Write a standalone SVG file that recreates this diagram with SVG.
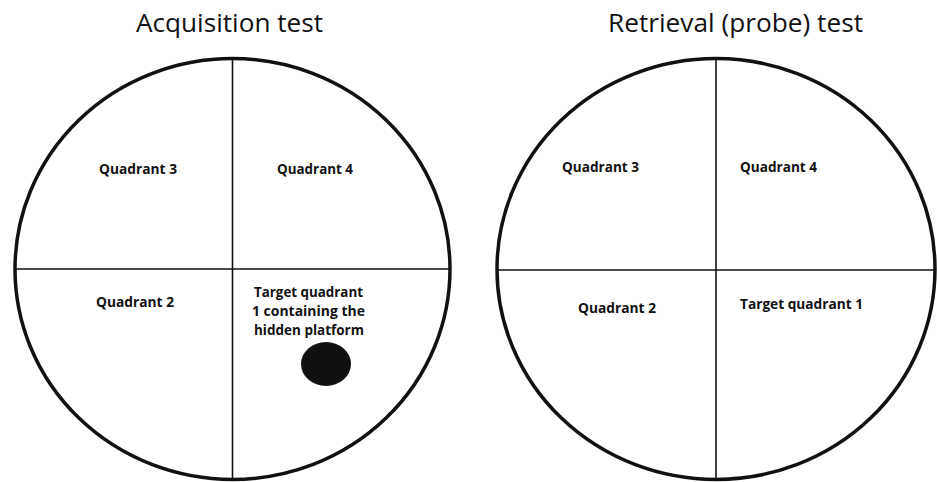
<svg xmlns="http://www.w3.org/2000/svg" width="937" height="482" viewBox="0 0 937 482">
  <style>
    .pool { fill: #ffffff; stroke: #111111; stroke-width: 3.5; }
    .divider { stroke: #111111; stroke-width: 1.6; fill: none; }
    .title { font-family: "Open Sans", "Liberation Sans", sans-serif; font-size: 26px; fill: #111111; }
    .label { font-family: "Open Sans", "Liberation Sans", sans-serif; font-size: 13.5px; font-weight: bold; fill: #111111; }
    .platform { fill: #111111; }
  </style>
  <rect width="937" height="482" fill="#ffffff"/>

  <!-- Acquisition test pool -->
  <g id="acquisition">
    <text class="title" x="136" y="32" textLength="187" lengthAdjust="spacingAndGlyphs">Acquisition test</text>
    <ellipse class="pool" cx="232.5" cy="269" rx="217.5" ry="210.5"/>
    <g class="divider-set">
      <line class="divider" x1="232.5" y1="58.5" x2="232.5" y2="479.5"/>
      <line class="divider" x1="15" y1="269" x2="450" y2="269"/>
    </g>
    <g id="acq-q3"><text class="label" x="99" y="174" textLength="78" lengthAdjust="spacingAndGlyphs">Quadrant 3</text></g>
    <g id="acq-q4"><text class="label" x="277" y="174" textLength="76" lengthAdjust="spacingAndGlyphs">Quadrant 4</text></g>
    <g id="acq-q2"><text class="label" x="96" y="307" textLength="78" lengthAdjust="spacingAndGlyphs">Quadrant 2</text></g>
    <g id="acq-q1">
      <text class="label" x="254" y="297" textLength="109" lengthAdjust="spacingAndGlyphs">Target quadrant</text>
      <text class="label" x="252" y="316" textLength="113" lengthAdjust="spacingAndGlyphs">1 containing the</text>
      <text class="label" x="254" y="335" textLength="110" lengthAdjust="spacingAndGlyphs">hidden platform</text>
      <ellipse class="platform" cx="326" cy="364" rx="25" ry="22"/>
    </g>
  </g>

  <!-- Retrieval (probe) test pool -->
  <g id="retrieval">
    <text class="title" x="608" y="32" textLength="255" lengthAdjust="spacingAndGlyphs">Retrieval (probe) test</text>
    <ellipse class="pool" cx="716" cy="269" rx="219" ry="210.5"/>
    <g class="divider-set">
      <line class="divider" x1="716" y1="58.5" x2="716" y2="479.5"/>
      <line class="divider" x1="497" y1="270" x2="935" y2="270"/>
    </g>
    <g id="ret-q3"><text class="label" x="562" y="172" textLength="77" lengthAdjust="spacingAndGlyphs">Quadrant 3</text></g>
    <g id="ret-q4"><text class="label" x="740" y="172" textLength="77" lengthAdjust="spacingAndGlyphs">Quadrant 4</text></g>
    <g id="ret-q2"><text class="label" x="578" y="313" textLength="78" lengthAdjust="spacingAndGlyphs">Quadrant 2</text></g>
    <g id="ret-q1"><text class="label" x="740" y="309" textLength="123" lengthAdjust="spacingAndGlyphs">Target quadrant  1</text></g>
  </g>
</svg>
